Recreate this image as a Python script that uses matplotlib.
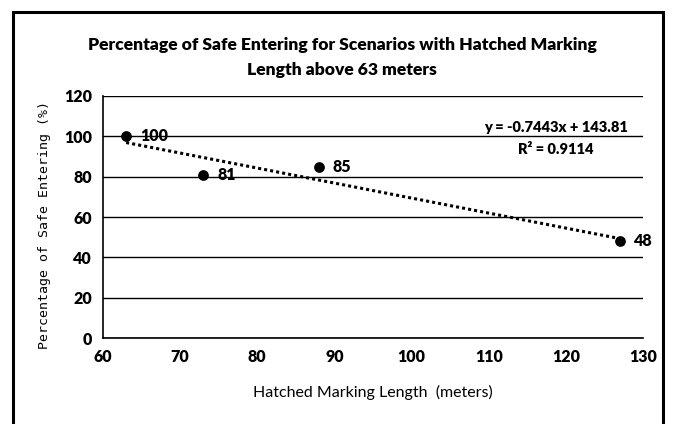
import numpy as np
import matplotlib
matplotlib.use("Agg")
import matplotlib.pyplot as plt
from matplotlib.patches import Rectangle

# data
lengths = [63, 73, 88, 127]
safe_pct = [100, 81, 85, 48]
point_labels = ["100", "81", "85", "48"]
x_ticks = [60, 70, 80, 90, 100, 110, 120, 130]
y_ticks = [0, 20, 40, 60, 80, 100, 120]

title_font = ["Lato", "DejaVu Sans"]

fig = plt.figure(figsize=(6.75, 4.24), dpi=100)
ax = fig.add_axes([0.1526, 0.2028, 0.8, 0.5708])

# outer frame
fig.patches.append(Rectangle((13 / 675, -0.05), 650 / 675, 1 - 12 / 424 + 0.05,
                             transform=fig.transFigure, fill=False,
                             edgecolor="black", linewidth=2.2))

ax.set_xlim(60, 130)
ax.set_ylim(0, 120)
ax.set_xticks(x_ticks)
ax.set_yticks(y_ticks)
ax.yaxis.grid(True, color="black", linewidth=1.0)
ax.set_axisbelow(True)
for s in ["top", "right"]:
    ax.spines[s].set_visible(False)
ax.spines["left"].set_linewidth(1.2)
ax.spines["bottom"].set_linewidth(1.2)
ax.tick_params(length=0, pad=8)
for lab in ax.get_xticklabels() + ax.get_yticklabels():
    lab.set_family(title_font)
    lab.set_fontsize(11.5)
    lab.set_fontweight("heavy")

# linear trendline
coef = np.polyfit(lengths, safe_pct, 1)
xs = np.array([min(lengths), max(lengths)])
ax.plot(xs, np.polyval(coef, xs), linestyle=(0, (1, 1)), color="black", linewidth=2.2)

ax.scatter(lengths, safe_pct, s=45, color="black", zorder=5)
for x, y, t in zip(lengths, safe_pct, point_labels):
    ax.annotate(t, (x, y), xytext=(10, 0), textcoords="offset points",
                va="center", ha="left", fontsize=11.5, fontweight="heavy",
                family=title_font)

ax.text(556 / 675, 1 - 128 / 424,
        "y = %.4fx + %.2f" % (coef[0], coef[1]),
        transform=fig.transFigure, ha="center", va="center",
        fontsize=10.5, fontweight="heavy", family=title_font)
ax.text(556 / 675, 1 - 150 / 424, "R² = 0.9114",
        transform=fig.transFigure, ha="center", va="center",
        fontsize=10.5, fontweight="heavy", family=title_font)

fig.text(342 / 675, 1 - 45 / 424,
         "Percentage of Safe Entering for Scenarios with Hatched Marking",
         ha="center", va="center", fontsize=12.6, fontweight="heavy", family=title_font)
fig.text(342 / 675, 1 - 70 / 424, "Length above 63 meters",
         ha="center", va="center", fontsize=12.6, fontweight="heavy", family=title_font)

fig.text(373 / 675, 1 - 392 / 424, "Hatched Marking Length  (meters)",
         ha="center", va="center", fontsize=11.5, family=title_font)
fig.text(45 / 675, 1 - 225 / 424, "Percentage of Safe Entering (%)",
         ha="center", va="center", rotation=90, fontsize=9.5,
         family=["DejaVu Sans Mono"])

fig.savefig("out.png", dpi=100)
